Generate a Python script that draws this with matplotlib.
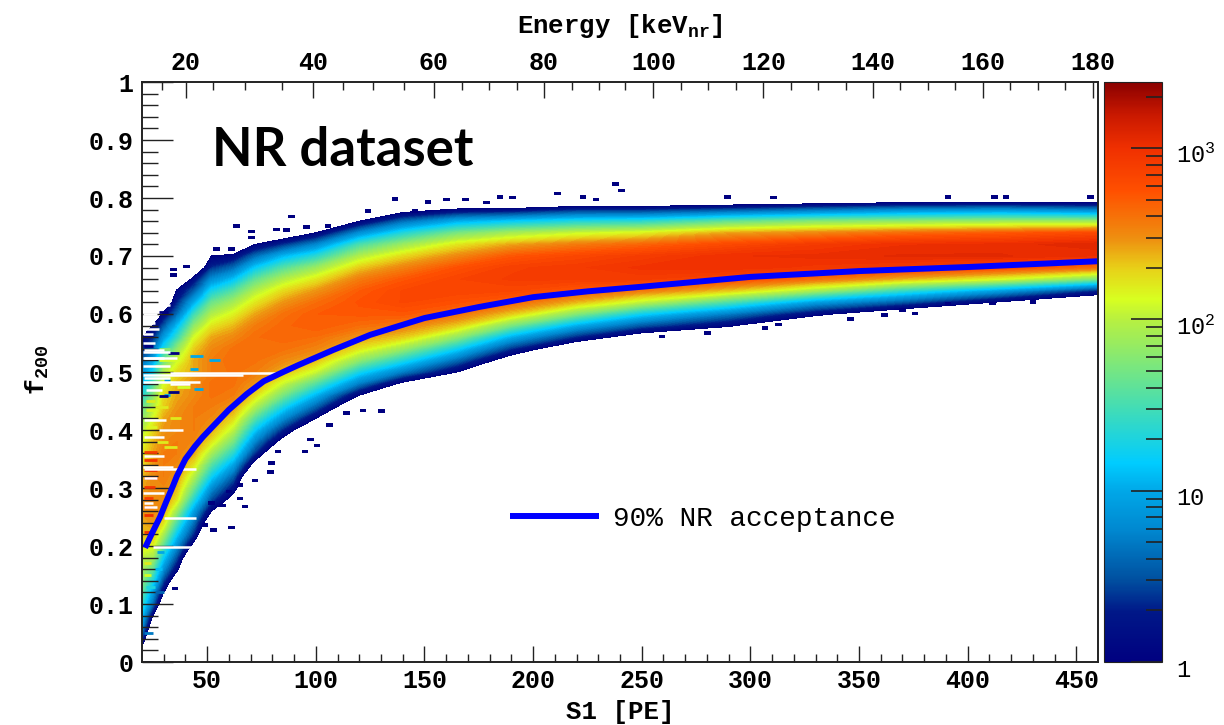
# f200 vs S1 band, NR calibration
import numpy as np
import matplotlib
matplotlib.use('Agg')
import matplotlib.pyplot as plt
from matplotlib.colors import LinearSegmentedColormap, Normalize, LogNorm
from matplotlib.cm import ScalarMappable
from matplotlib.ticker import FixedLocator, NullFormatter
from matplotlib.transforms import ScaledTranslation

plt.rcParams['font.family'] = ['Liberation Mono', 'DejaVu Sans Mono']
plt.rcParams['font.weight'] = 'bold'
plt.rcParams['axes.labelweight'] = 'bold'
plt.rcParams['mathtext.default'] = 'regular'

# log10(counts), per S1 column, in f200 steps of 0.02
col_s1 = [20, 25, 30, 36, 44, 52, 62, 72, 85, 100, 120, 140, 165, 190, 220, 250, 290, 330, 370, 415, 460]
col_f0 = [0.00, 0.06, 0.10, 0.14, 0.18, 0.24, 0.26, 0.32, 0.36, 0.40, 0.44, 0.46, 0.48, 0.50, 0.54, 0.54, 0.56, 0.58, 0.60, 0.60, 0.62]
col_logn = [
    [-0.2, -0.2, 0.4, 0.8, 1.1, 1.4, 1.6, 1.75, 1.9, 2.0, 2.2, 2.35, 2.4, 2.45, 2.45, 2.4, 2.35, 2.25, 2.2, 2.1, 1.95, 1.8, 1.6, 1.3, 1.1, 0.9, 0.55, 0.3, 0.0, -0.6],
    [-0.5, 0.0, 0.6, 0.9, 1.3, 1.6, 1.9, 2.15, 2.35, 2.45, 2.5, 2.5, 2.5, 2.5, 2.45, 2.4, 2.35, 2.25, 2.1, 1.95, 1.75, 1.5, 1.2, 0.95, 0.6, 0.3, 0.0, -0.6],
    [-0.5, 0.0, 0.4, 0.8, 1.15, 1.55, 1.9, 2.2, 2.4, 2.5, 2.5, 2.55, 2.55, 2.55, 2.5, 2.45, 2.4, 2.3, 2.25, 2.1, 1.95, 1.65, 1.3, 0.9, 0.5, 0.1, -0.5],
    [-0.4, 0.1, 0.45, 0.8, 1.15, 1.5, 1.85, 2.2, 2.35, 2.45, 2.5, 2.55, 2.55, 2.5, 2.5, 2.45, 2.4, 2.35, 2.25, 2.05, 1.8, 1.4, 1.05, 0.6, 0.3, 0.05, -0.6],
    [-0.8, -0.2, 0.3, 0.6, 0.9, 1.3, 1.65, 1.95, 2.2, 2.4, 2.5, 2.55, 2.55, 2.55, 2.5, 2.5, 2.4, 2.4, 2.3, 2.1, 1.8, 1.45, 1.0, 0.55, 0.15, -0.5],
    [-0.5, 0.0, 0.45, 0.8, 1.2, 1.55, 1.9, 2.2, 2.4, 2.5, 2.55, 2.6, 2.6, 2.55, 2.55, 2.5, 2.4, 2.2, 1.95, 1.65, 1.25, 0.8, 0.35, 0.0, -0.7],
    [-0.8, -0.2, 0.2, 0.55, 0.95, 1.35, 1.7, 2.0, 2.25, 2.45, 2.55, 2.6, 2.6, 2.62, 2.6, 2.5, 2.35, 2.15, 1.9, 1.55, 1.1, 0.6, 0.1, -0.6],
    [-0.8, -0.2, 0.35, 0.75, 1.15, 1.55, 1.95, 2.25, 2.45, 2.55, 2.6, 2.62, 2.62, 2.55, 2.4, 2.2, 1.95, 1.6, 1.15, 0.6, 0.0, -0.7],
    [-0.8, -0.2, 0.3, 0.8, 1.25, 1.7, 2.05, 2.35, 2.5, 2.6, 2.65, 2.65, 2.6, 2.45, 2.25, 1.95, 1.55, 1.05, 0.35, -0.4],
    [-0.6, 0.0, 0.55, 1.05, 1.55, 2.05, 2.35, 2.52, 2.62, 2.7, 2.7, 2.62, 2.45, 2.2, 1.85, 1.35, 0.75, 0.0, -0.8],
    [-0.6, 0.0, 0.7, 1.25, 1.8, 2.2, 2.45, 2.62, 2.72, 2.75, 2.7, 2.55, 2.3, 1.95, 1.5, 0.8, 0.0, -0.8],
    [-0.6, -0.1, 0.7, 1.3, 1.85, 2.3, 2.55, 2.72, 2.82, 2.82, 2.72, 2.52, 2.25, 1.85, 1.3, 0.6, -0.2, -1.0],
    [-0.6, 0.0, 0.6, 1.2, 1.8, 2.3, 2.6, 2.75, 2.85, 2.85, 2.75, 2.5, 2.2, 1.7, 1.0, 0.05, -0.9],
    [-0.8, -0.3, 0.35, 1.0, 1.7, 2.3, 2.65, 2.82, 2.9, 2.88, 2.72, 2.4, 1.9, 1.15, 0.1, -0.9],
    [-0.5, 0.3, 1.0, 1.75, 2.35, 2.7, 2.9, 2.92, 2.82, 2.55, 2.05, 1.3, 0.3, -0.8],
    [-1.0, -0.3, 0.5, 1.2, 2.0, 2.55, 2.9, 2.98, 2.9, 2.65, 2.15, 1.35, 0.3, -0.8],
    [-0.6, 0.05, 0.7, 1.5, 2.3, 2.8, 3.0, 3.0, 2.8, 2.4, 1.6, 0.45, -0.7],
    [-0.6, 0.1, 0.9, 1.9, 2.6, 2.95, 3.02, 2.92, 2.5, 1.75, 0.6, -0.6],
    [-0.4, 0.5, 1.4, 2.35, 2.9, 3.05, 3.0, 2.62, 1.8, 0.75, -0.5],
    [-0.6, -0.05, 0.9, 2.1, 2.8, 3.05, 3.02, 2.7, 1.85, 0.8, -0.5],
    [-0.6, 0.3, 1.7, 2.6, 3.0, 3.08, 2.8, 1.85, 0.7, -0.5],
]

# isolated single-count bins outside the band
stray_s1 = [61.3, 52.8, 49, 79.7, 79.2, 95, 82.7, 100.6, 97.6, 106.2, 114.2, 121.8, 130.3, 67.4, 35.2, 72,
            63.6, 70.5, 88.9, 136.4, 151.7, 160.2, 168.9, 184.7, 190.5, 211.2, 223, 238, 54.4, 34.4, 40.6, 34.4,
            240.8, 289.4, 310.6, 391, 412.4, 417.7, 456.5,
            346, 361.8, 370, 375.8, 306.8, 313, 280.2, 259.3, 391, 430, 411.5,
            61.3, 70.5, 82, 86.6, 95.8, 105.7, 124, 145.6, 178.6, 229,
            65, 57, 52, 65, 60]
stray_f = [.232, .228, .236, .343, .328, .363, .363, .373, .384, .409, .429, .434, .433, .268, .127, .313,
           .752, .742, .768, .798, .793, .797, .797, .802, .801, .808, .802, .824, .712, .677, .682, .667,
           .813, .802, .801, .802, .802, .802, .802,
           .591, .598, .607, .601, .576, .582, .567, .561, .617, .621, .618,
           .712, .732, .746, .745, .75, .752, .778, .778, .792, .797,
           .282, .27, .274, .305, .294]

# coloured rows in the noisy low S1 part: f200, S1 from, S1 to, log10(counts)
streak_f = [.527, .506, .52, .47, .486, .46, .564, .545, .604, .532, .466, .458,
            .362, .348, .331, .318, .302, .282, .268, .254, .224,
            .45, .435, .405, .52, .51, .54, .475, .44, .42, .38, .37, .21, .17, .15,
            .13, .12, .19, .16, .05, .0]
streak_s0 = [42, 42, 51, 44, 30, 30, 21, 21, 28, 32, 32, 28,
             21, 21, 21, 21, 21, 21, 21, 21, 21,
             22, 22, 22, 28, 26, 28, 36, 26, 33, 27, 30, 21, 21, 21,
             22, 26, 27, 26, 21, 21]
streak_s1 = [48, 46, 56, 48, 33, 33, 25, 25, 32, 37, 37, 32,
             27, 27, 27, 27, 26, 25, 25, 25, 24,
             26, 26, 27, 37, 32, 33, 42, 32, 38, 32, 36, 24, 24, 24,
             26, 30, 30, 29, 25, 25]
streak_logn = [1.0, 1.0, 1.0, 1.0, 0.9, 1.0, 0, 0, 0, 0, 0, 0,
               2.9, 2.95, 3.0, 3.0, 2.95, 2.9, 2.9, 3.0, 3.0,
               2.2, 2.15, 2.15, 2.1, 2.0, 1.8, 2.1, 2.2, 2.2, 2.2, 2.2, 2.1, 2.2, 2.1,
               1.3, 0.6, 1.0, 1.1, 0.7, 0.1]

# empty rows in the low S1 part
gap_f = [.495, .499, .483, .337, .332, .355, .40, .388, .417, .538, .291, .317, .248, .199, .524, .268,
         .615, .60, .585, .575, .565, .55, .535, .525, .51, .49, .48, .469, .274]
gap_s0 = [20.5, 33, 20.5, 20.5, 21, 21, 28, 21, 21, 21, 20.5, 21, 30, 25, 21, 21,
          20.5, 20.5, 20.5, 20.5, 20.5, 20.5, 20.5, 20.5, 20.5, 21, 33, 22, 21]
gap_s1 = [66.5, 82, 46.7, 34.4, 45, 30, 39, 30, 31, 30, 30, 27, 45, 48, 30, 27,
          33, 27, 26, 28, 25, 26, 33, 36, 33, 33, 42, 29, 25]

# 90% NR acceptance curve
cut_s1 = [21.4, 25, 28.3, 31, 34.4, 36, 40, 44.4, 48, 52.8, 60, 68.2, 76, 85, 92, 100, 108, 125, 150, 175, 200, 225, 250, 300, 350, 400, 460]
cut_f = [.197, .225, .25, .275, .305, .32, .35, .372, .388, .407, .435, .462, .484, .50, .512, .525, .538, .564, .593, .612, .629, .639, .647, .664, .674, .681, .691]

# top axis: energy ticks sit at these S1 values
energy_major = [20, 40, 60, 80, 100, 120, 140, 160, 180]
energy_major_s1 = [40.1, 98.7, 154.2, 204.9, 255.4, 306, 356.6, 407.1, 457.7]
energy_minor_s1 = [29.1, 52.8, 67.5, 84.3, 112.6, 126.4, 140.7, 167.1, 179.6, 192.4, 217.7, 230.3, 242.5,
                   268.2, 280.7, 293.4, 318.8, 331.3, 344, 369.1, 381.9, 394.4, 419.7, 432.4, 445]

# palette sampled from the colour bar
cmap_log = [0, .29, .48, .77, 1.0, 1.16, 1.47, 1.75, 2.0, 2.12, 2.3, 2.47, 2.75, 3.0, 3.2, 3.386]
cmap_col = ['#000080', '#001888', '#0050a0', '#0088d0', '#00a8e8', '#00ccff', '#40dcb8', '#80e878',
            '#b8f040', '#d8ff20', '#e8d018', '#ee9010', '#ff5000', '#f03000', '#c81800', '#8a0000']
log_max = 3.386

cmap = LinearSegmentedColormap.from_list('root', [(l / log_max, c) for l, c in zip(cmap_log, cmap_col)], N=512)

f_grid = np.arange(0, 43) * 0.02
logn = np.full((len(f_grid), len(col_s1)), -1.0)
for i, vals in enumerate(col_logn):
    k0 = int(round(col_f0[i] / 0.02))
    logn[k0:k0 + len(vals), i] = vals

W, H = 1224, 725
fig = plt.figure(figsize=(W / 100, H / 100), dpi=100)
ax = fig.add_axes([142 / W, (H - 662) / H, (1098 - 142) / W, 580 / H])

norm = Normalize(0, log_max)
ax.contourf(col_s1, f_grid, logn, levels=np.linspace(0, log_max, 90), cmap=cmap, norm=norm, antialiased=False)

# stray bins, noisy rows and gaps
ax.bar(stray_s1, 0.006, width=3, bottom=np.array(stray_f) - 0.003, color='#000080', linewidth=0)
ax.hlines(streak_f, streak_s0, streak_s1, colors=cmap(norm(streak_logn)), linewidth=2.0)
ax.hlines(gap_f, gap_s0, gap_s1, color='white', linewidth=1.8)

ax.plot(cut_s1, cut_f, color='#0000ff', linewidth=4.3, solid_capstyle='butt', solid_joinstyle='round', label='90% NR acceptance')

ax.set_xlim(20, 460)
ax.set_ylim(0, 1)
ax.set_xticks(np.arange(50, 451, 50))
ax.set_xticks(np.arange(30, 460, 10), minor=True)
ax.set_yticks(np.arange(0, 1.01, 0.1))
ax.set_yticklabels(['0', '0.1', '0.2', '0.3', '0.4', '0.5', '0.6', '0.7', '0.8', '0.9', '1'])
ax.set_yticks(np.arange(0, 1.001, 0.02), minor=True)
ax.tick_params(axis='x', which='major', direction='in', length=11.5, width=1.0, labelsize=18, pad=5, color='#222222')
ax.tick_params(axis='x', which='minor', direction='in', length=5.8, width=1.0, color='#222222')
ax.tick_params(axis='y', which='major', direction='in', length=22, width=1.0, labelsize=18, pad=6, color='#222222')
ax.tick_params(axis='y', which='minor', direction='in', length=11.5, width=1.0, color='#222222')
for s in ax.spines.values():
    s.set_linewidth(1.4)
    s.set_color('#222222')
ax.set_xlabel('S1 [PE]', fontsize=18.5, labelpad=5, x=0.5)
ax.set_ylabel('f$_{200}$', fontsize=19, labelpad=27, y=0.503)

ax.text(52.2, 0.855, 'NR dataset', family='Lato', weight='bold', fontsize=38, color='black', va='baseline')

ax.legend(loc='center left', bbox_to_anchor=(189.3, 0.247), bbox_transform=ax.transData, frameon=False,
          handlelength=3.2, handletextpad=0.5, borderpad=0, borderaxespad=0,
          prop={'size': 20, 'weight': 'normal'})

# energy axis on top
top = ax.twiny()
top.set_xlim(ax.get_xlim())
top.set_xticks(energy_major_s1)
top.set_xticklabels([str(e) for e in energy_major])
top.set_xticks(energy_minor_s1, minor=True)
top.tick_params(axis='x', which='major', direction='in', length=11.5, width=1.0, labelsize=18, pad=5, color='#222222')
top.tick_params(axis='x', which='minor', direction='in', length=5.8, width=1.0, color='#222222')
for s in top.spines.values():
    s.set_visible(False)
top.set_xlabel('Energy [keV$_{nr}$]', fontsize=18.5, labelpad=13)

# colour bar
cax = fig.add_axes([1104 / W, (H - 662) / H, 58 / W, 580 / H])
sm = ScalarMappable(norm=LogNorm(1, 10 ** log_max), cmap=cmap)
cb = fig.colorbar(sm, cax=cax)
cb.outline.set_linewidth(0.8)
cb.outline.set_edgecolor('#222222')
cax.yaxis.set_major_locator(FixedLocator([1, 10, 100, 1000]))
cax.yaxis.set_minor_locator(FixedLocator([2, 3, 4, 5, 6, 7, 8, 9, 20, 30, 40, 50, 60, 70, 80, 90,
                                          200, 300, 400, 500, 600, 700, 800, 900, 2000]))
cax.yaxis.set_minor_formatter(NullFormatter())
cax.set_yticklabels(['1', '10', '$10^{2}$', '$10^{3}$'])
cax.tick_params(axis='y', which='major', direction='in', length=22, width=1.2, labelsize=17, pad=10, color='#222222')
cax.tick_params(axis='y', which='minor', direction='in', length=11.5, width=1.2, color='#222222')
for t in cax.get_yticklabels():
    t.set_fontweight('normal')
    t.set_transform(t.get_transform() + ScaledTranslation(0, -4 / 72, fig.dpi_scale_trans))

fig.savefig('out.png', dpi=100)
